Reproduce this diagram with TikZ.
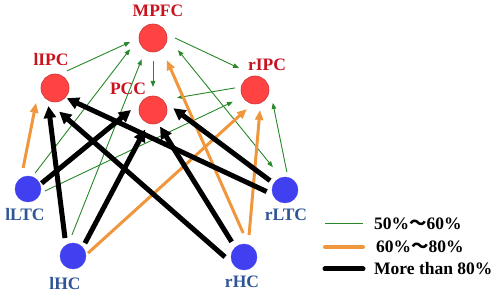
\documentclass[tikz,border=0pt]{standalone}
\usepackage{fontspec}
\setmainfont{Liberation Serif}
\newfontfamily\cjkfont{Noto Sans CJK SC}
\usetikzlibrary{arrows.meta,calc}
\definecolor{nodered}{RGB}{255,66,66}
\definecolor{rededge}{RGB}{205,50,50}
\definecolor{nodeblue}{RGB}{64,64,240}
\definecolor{labred}{RGB}{200,18,30}
\definecolor{labblue}{RGB}{47,85,151}
\definecolor{edgegreen}{RGB}{40,135,40}
\definecolor{edgeorange}{RGB}{240,150,60}
\begin{document}
\begin{tikzpicture}[x=1pt,y=1pt,
  rednode/.style={circle,fill=nodered,draw=rededge,line width=0.6pt,minimum size=28pt,inner sep=0pt,outer sep=0pt},
  bluenode/.style={circle,fill=nodeblue,draw=nodeblue,line width=0.4pt,minimum size=26pt,inner sep=0pt,outer sep=0pt},
  redlab/.style={text=labred,font=\bfseries\fontsize{17.5}{20}\selectfont,inner sep=0pt},
  bluelab/.style={text=labblue,font=\bfseries\fontsize{17.5}{20}\selectfont,inner sep=0pt},
  leglab/.style={text=black,font=\bfseries\fontsize{17.5}{20}\selectfont,inner sep=0pt,anchor=west},
  grn/.style={draw=edgegreen,line width=0.9pt,-{Triangle[length=6pt,width=4.5pt]}},
  grnboth/.style={draw=edgegreen,line width=0.9pt,{Triangle[length=6pt,width=4.5pt]}-{Triangle[length=6pt,width=4.5pt]}},
  org/.style={draw=edgeorange,line width=3pt,-{Triangle[length=10pt,width=8pt]}},
  blk/.style={draw=black,line width=5pt,-{Triangle[length=12pt,width=12pt]}},
]
\useasboundingbox (0,0) rectangle (498,-296);
% nodes
\node[rednode] (MPFC) at (153,-38) {};
\node[rednode] (lIPC) at (55,-88) {};
\node[rednode] (PCC) at (153,-110) {};
\node[rednode] (rIPC) at (255,-90) {};
\node[bluenode] (lLTC) at (28,-189) {};
\node[bluenode] (rLTC) at (285,-190) {};
\node[bluenode] (lHC) at (73,-256) {};
\node[bluenode] (rHC) at (244,-257) {};
% labels
\node[redlab] (tMPFC) at (158,-11) {MPFC};
\node[redlab] (tlIPC) at (51,-60) {lIPC};
\node[redlab] (tPCC) at (128,-88.5) {PCC};
\node[redlab] (trIPC) at (267,-64.5) {rIPC};
\node[bluelab] (tlLTC) at (25,-214.5) {lLTC};
\node[bluelab] (tlHC) at (65,-284) {lHC};
\node[bluelab] (trLTC) at (286,-215) {rLTC};
\node[bluelab] (trHC) at (242,-281.5) {rHC};
% green edges
\draw[grn] ($(lIPC)+(55:20.8)$) -- ($(MPFC)+(190:23.3)$);
\draw[grn] ($(MPFC)+(0:22)$) -- ($(rIPC)+(126:27)$);
\draw[grn] ($(MPFC)+(270:23)$) -- ($(PCC)+(90:23)$);
\draw[grn] ($(rIPC)+(174:20)$) -- ($(PCC)+(27:27)$);
\draw[grn] ($(lLTC)+(66:17.5)$) -- ($(MPFC)+(206:25.5)$);
\draw[grn] ($(lHC)+(93:21)$) -- ($(MPFC)+(242:24)$);
\draw[grn] ($(lLTC)+(353:17)$) -- ($(rIPC)+(208:25)$);
\draw[grn] ($(rLTC)+(84:18)$) -- ($(rIPC)+(324:22)$);
\draw[grnboth] ($(MPFC)+(334:27.7)$) -- ($(rLTC)+(118:25.8)$);
% orange edges
\draw[org] ($(lLTC)+(103:21.6)$) -- ($(lIPC)+(218:24)$);
\draw[org] ($(rHC)+(92:24)$) -- ($(MPFC)+(302:26)$);
\draw[org] ($(rHC)+(77:22.6)$) -- ($(rIPC)+(284:20.6)$);
\draw[org] ($(lHC)+(11:15.3)$) -- ($(rIPC)+(247:20.6)$);
% black edges
\draw[blk] ($(lHC)+(114:19.7)$) -- ($(lIPC)+(250:19.2)$);
\draw[blk] ($(lHC)+(47:17.5)$) -- ($(PCC)+(248:21)$);
\draw[blk] ($(lLTC)+(23:14.8)$) -- ($(PCC)+(180:22)$);
\draw[blk] ($(rLTC)+(185:18.4)$) -- ($(lIPC)+(319:15.6)$);
\draw[blk] ($(rLTC)+(148:17.6)$) -- ($(PCC)+(5:20.4)$);
\draw[blk] ($(rHC)+(180:19)$) -- ($(lIPC)+(280:24)$);
\draw[blk] ($(rHC)+(129:19.6)$) -- ($(PCC)+(293:18)$);
% legend
\coordinate (g1) at (325,-224); \coordinate (g2) at (363,-224);
\coordinate (o1) at (325,-247); \coordinate (o2) at (363,-247);
\coordinate (b1) at (325,-269); \coordinate (b2) at (363,-269);
\draw[draw=edgegreen,line width=1pt] (g1) -- (g2);
\draw[draw=edgeorange,line width=4pt,line cap=round] (o1) -- (o2);
\draw[draw=black,line width=5pt,line cap=round] (b1) -- (b2);
\node[leglab] (l1) at (374,-224) {50\%{\cjkfont ～}60\%};
\node[leglab] (l2) at (376,-247) {60\%{\cjkfont ～}80\%};
\node[leglab] (l3) at (374,-269) {More than 80\%};
\end{tikzpicture}
\end{document}
